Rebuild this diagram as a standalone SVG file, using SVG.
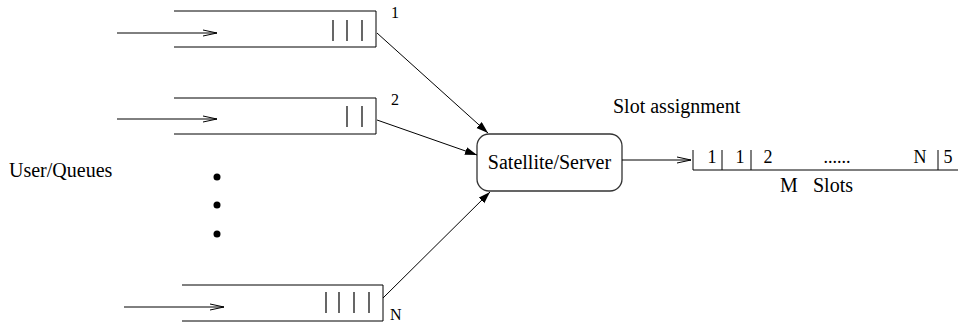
<svg xmlns="http://www.w3.org/2000/svg" width="961" height="324" viewBox="0 0 961 324">
<defs>
<style>
text{font-family:"Liberation Serif","Times New Roman",serif;fill:#000}
.t{font-size:20px}
.s{font-size:16px}
.d{font-size:18px}
.q{fill:none;stroke:#000;stroke-width:1}
.tick{stroke:#000;stroke-width:1.2}
.in{fill:none;stroke:#000;stroke-width:1}
.c{fill:none;stroke:#000;stroke-width:1}
</style>
<marker id="open" markerWidth="16" markerHeight="10" refX="14" refY="4" orient="auto" markerUnits="userSpaceOnUse">
<path d="M0,1 L14,4 L0,7" fill="none" stroke="#000" stroke-width="1"/>
</marker>
<marker id="fill" markerWidth="14" markerHeight="10" refX="12" refY="4" orient="auto" markerUnits="userSpaceOnUse">
<path d="M0,0 L12,4 L0,8 Z" fill="#000"/>
</marker>
</defs>

<g id="queue1">
<path class="q" d="M174,11 H376 V47 H174"/>
<line class="tick" x1="333" y1="20" x2="333" y2="41"/>
<line class="tick" x1="347" y1="20" x2="347" y2="41"/>
<line class="tick" x1="362" y1="20" x2="362" y2="41"/>
<text class="s" x="391" y="18">1</text>
</g>

<g id="queue2">
<path class="q" d="M174,98 H376 V134 H174"/>
<line class="tick" x1="347" y1="106" x2="347" y2="127"/>
<line class="tick" x1="362" y1="106" x2="362" y2="127"/>
<text class="s" x="391" y="105">2</text>
</g>

<g id="queueN">
<path class="q" d="M182,285 H383 V321 H182"/>
<line class="tick" x1="326" y1="292" x2="326" y2="313"/>
<line class="tick" x1="339" y1="292" x2="339" y2="313"/>
<line class="tick" x1="354" y1="292" x2="354" y2="313"/>
<line class="tick" x1="369" y1="292" x2="369" y2="313"/>
<text class="s" x="390" y="320">N</text>
</g>

<g id="dots">
<circle cx="217" cy="177" r="3.5"/>
<circle cx="217" cy="205" r="3.5"/>
<circle cx="217" cy="234" r="3.5"/>
</g>

<g id="userlabel">
<text class="t" x="9" y="177">User/Queues</text>
</g>

<g id="server">
<rect x="477" y="134" width="145" height="57" rx="12" ry="12" fill="#fff" stroke="#333" stroke-width="1.3"/>
<text class="t" x="549.5" y="169" text-anchor="middle">Satellite/Server</text>
</g>

<g id="slots">
<text class="t" x="613" y="113">Slot assignment</text>
<path class="q" d="M693,150 V170 H958"/>
<line class="q" x1="722" y1="150" x2="722" y2="170"/>
<line class="q" x1="751" y1="150" x2="751" y2="170"/>
<line class="q" x1="938" y1="150" x2="938" y2="170"/>
<text class="d" x="712" y="163" text-anchor="middle">1</text>
<text class="d" x="740" y="163" text-anchor="middle">1</text>
<text class="d" x="768" y="163" text-anchor="middle">2</text>
<text class="d" x="837" y="163" text-anchor="middle">......</text>
<text class="d" x="920" y="163" text-anchor="middle">N</text>
<text class="d" x="948" y="163" text-anchor="middle">5</text>
<text class="t" x="780" y="192">M</text>
<text class="t" x="813" y="192">Slots</text>
</g>

<g id="connectors">
<line class="in" x1="117" y1="33" x2="217" y2="33" marker-end="url(#open)"/>
<line class="in" x1="117" y1="119" x2="217" y2="119" marker-end="url(#open)"/>
<line class="in" x1="124" y1="307" x2="224" y2="307" marker-end="url(#open)"/>
<line class="c" x1="377" y1="33" x2="488" y2="133" marker-end="url(#fill)"/>
<line class="c" x1="377" y1="120" x2="477" y2="155" marker-end="url(#fill)"/>
<line class="c" x1="383" y1="298" x2="490" y2="192" marker-end="url(#fill)"/>
<line class="in" x1="622" y1="160" x2="691" y2="160" marker-end="url(#open)"/>
</g>
</svg>
